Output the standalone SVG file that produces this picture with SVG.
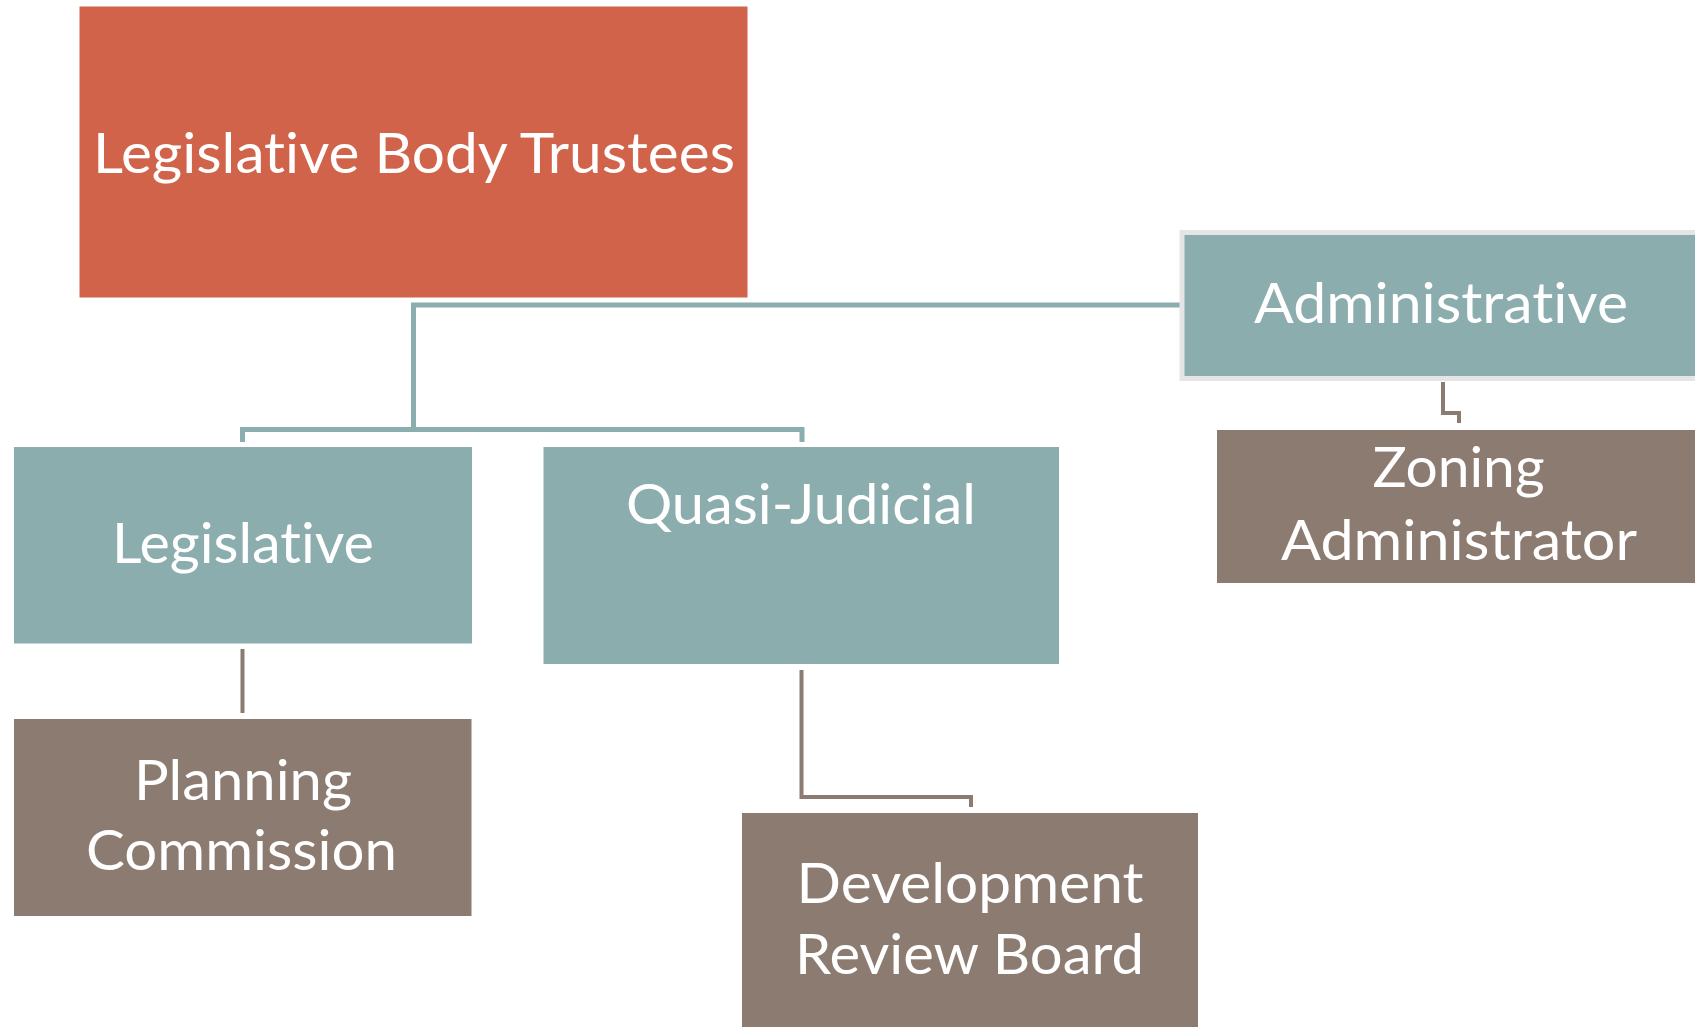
<svg xmlns="http://www.w3.org/2000/svg" width="1695" height="1027" viewBox="0 0 1695 1027">
  <style>
    .lbl { font-family: Lato, "Open Sans", "Liberation Sans", sans-serif; font-size: 57px; fill: #ffffff; text-anchor: middle; font-variant-ligatures: none; font-feature-settings: "liga" 0, "clig" 0; }
    .top { fill: #D1634A; }
    .mid { fill: #8CADAE; }
    .low { fill: #8C7B70; }
    .ct { fill: none; stroke: #8CADAE; stroke-width: 5; }
    .cb { fill: none; stroke: #8C7B70; stroke-width: 4; }
  </style>
  <rect width="1695" height="1027" fill="#ffffff"/>

  <!-- connectors -->
  <g id="connectors">
    <path class="ct" d="M1180,305 H413.5 V429.5"/>
    <path class="ct" d="M242.5,442 V429.5 H802 V442"/>
    <path class="cb" d="M242.5,649 V713"/>
    <path class="cb" d="M801.5,670 V797 H971 V807"/>
    <path class="cb" d="M1443,382 V413 H1459 V423"/>
  </g>

  <g id="trustees">
    <rect class="top" x="79.5" y="6.5" width="668" height="291"/>
    <text class="lbl" x="414" y="173" textLength="642" lengthAdjust="spacingAndGlyphs">Legislative Body Trustees</text>
  </g>

  <g id="administrative">
    <rect class="mid" x="1182" y="232.5" width="520" height="146" stroke="#E5E5E5" stroke-width="5"/>
    <text class="lbl" x="1441" y="323" textLength="374" lengthAdjust="spacingAndGlyphs">Administrative</text>
  </g>

  <g id="zoning-administrator">
    <rect class="low" x="1217" y="430" width="478" height="153"/>
    <text class="lbl" x="1458.5" y="487" textLength="172" lengthAdjust="spacingAndGlyphs">Zoning</text>
    <text class="lbl" x="1459" y="560" textLength="356" lengthAdjust="spacingAndGlyphs">Administrator</text>
  </g>

  <g id="legislative">
    <rect class="mid" x="14" y="447" width="458" height="196.5"/>
    <text class="lbl" x="243" y="563" textLength="262" lengthAdjust="spacingAndGlyphs">Legislative</text>
  </g>

  <g id="quasi-judicial">
    <rect class="mid" x="543.5" y="447" width="515.5" height="217"/>
    <text class="lbl" x="801" y="524" textLength="350" lengthAdjust="spacingAndGlyphs">Quasi-Judicial</text>
  </g>

  <g id="planning-commission">
    <rect class="low" x="14" y="719" width="457.5" height="197"/>
    <text class="lbl" x="243" y="800" textLength="218" lengthAdjust="spacingAndGlyphs">Planning</text>
    <text class="lbl" x="241.5" y="870" textLength="311" lengthAdjust="spacingAndGlyphs">Commission</text>
  </g>

  <g id="development-review-board">
    <rect class="low" x="742" y="813" width="456" height="214"/>
    <text class="lbl" x="970" y="903" textLength="347" lengthAdjust="spacingAndGlyphs">Development</text>
    <text class="lbl" x="969.5" y="974" textLength="349" lengthAdjust="spacingAndGlyphs">Review Board</text>
  </g>
</svg>
